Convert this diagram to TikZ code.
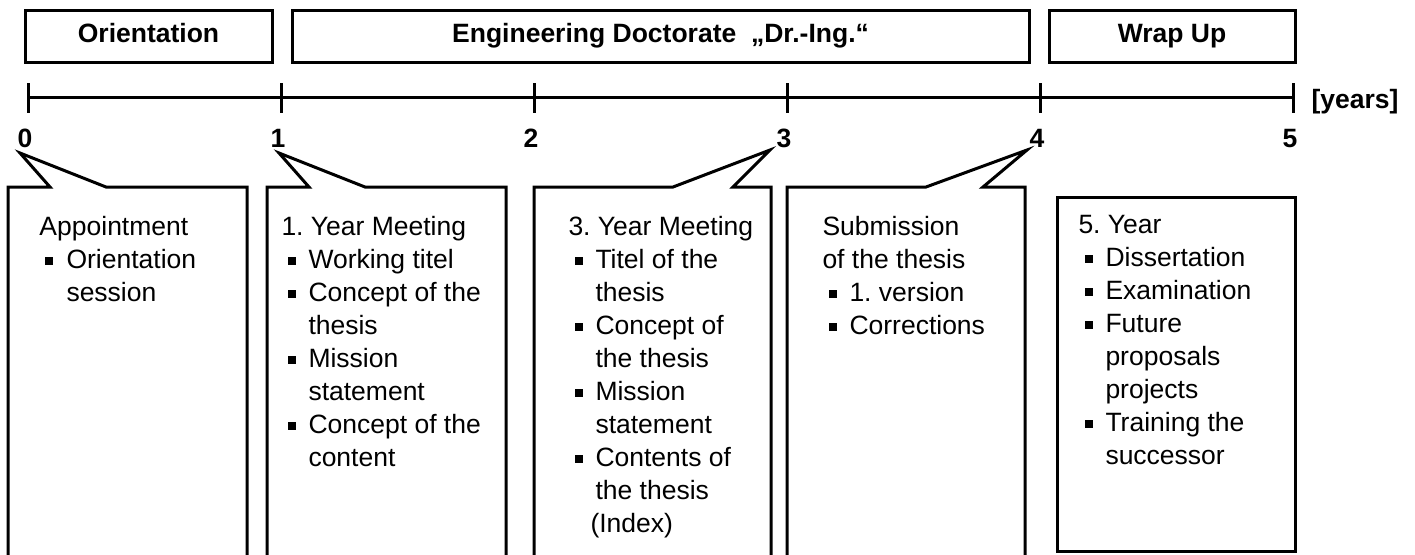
\documentclass[tikz,border=0pt]{standalone}
\usepackage{fontspec}
\setmainfont{Liberation Sans}
\usetikzlibrary{positioning, calc}

\newcommand{\bodyfont}{\fontsize{13.25}{16.5}\selectfont\frenchspacing}
\newcommand{\sq}{\makebox[13.5pt][l]{\hspace{3pt}\raisebox{1.6pt}{\rule{4pt}{4pt}}}}
\newcommand{\boxhead}[1]{\multicolumn{2}{@{}l@{}}{#1}}

\tikzset{
  phase/.style={draw, line width=1.5pt, minimum height=26pt, inner sep=0pt,
    text height=9.5pt, text depth=2.8pt, font=\bodyfont\bfseries},
  callout/.style={draw, line width=1.5pt, line join=miter},
  boxtext/.style={anchor=base west, inner sep=0pt, align=left},
  yearno/.style={anchor=base, inner sep=0pt, font=\bodyfont\bfseries}
}

\begin{document}
\begin{tikzpicture}[x=0.5pt, y=-0.5pt, line width=1.5pt, font=\bodyfont]
    \useasboundingbox (0,0) rectangle (1415,554);
    \clip (0,0) rectangle (1415,554);

    % 阶段
    \node[phase, minimum width=123.5pt] (orient) at (148.5,36) {Orientation};
    \node[phase, minimum width=368.5pt] (eng) at (660.5,36) {Engineering Doctorate\ \ „Dr.-Ing.“};
    \node[phase, minimum width=123pt] (wrap) at (1172,36) {Wrap Up};

    % 时间轴和刻度
    \foreach \i in {0,...,5} {
      \coordinate (a\i) at (28+253*\i,97);
      \draw ($(a\i)+(0,-14)$) -- ($(a\i)+(0,16)$);
      \node[yearno] (n\i) at (25+253*\i,147) {\i};
    }
    \draw (a0) -- (a5);
    \node[anchor=base west, inner sep=0pt, font=\bodyfont\bfseries] (unit) at (1310,108) {[years]};

    % 气泡框
    \draw[callout] (8,560) -- (8,187) -- (50,187) -- (20,153) -- (106,187) -- (247,187) -- (247,560);
    \draw[callout] (267,560) -- (267,187) -- (309,187) -- (279,153) -- (365,187) -- (506,187) -- (506,560);
    \draw[callout] (534,560) -- (534,187) -- (673,187) -- (770,150) -- (733,187) -- (771,187) -- (771,560);
    \draw[callout] (787,560) -- (787,187) -- (926,187) -- (1027,150) -- (983,187) -- (1025,187) -- (1025,560);
    \draw[callout] (1057,197) rectangle (1295,551);

    % 框内文字
    \node[boxtext] (appt) at (38,235) {\begin{tabular}[t]{@{}l@{}l@{}}
      \boxhead{Appointment}\\
      \sq & Orientation\\
          & session
    \end{tabular}};
    \node[boxtext] (meet1) at (280,235) {\begin{tabular}[t]{@{}l@{}l@{}}
      \boxhead{1. Year Meeting}\\
      \sq & Working titel\\
      \sq & Concept of the\\
          & thesis\\
      \sq & Mission\\
          & statement\\
      \sq & Concept of the\\
          & content
    \end{tabular}};
    \node[boxtext] (meet3) at (567,235) {\begin{tabular}[t]{@{}l@{}l@{}}
      \boxhead{3. Year Meeting}\\
      \sq & Titel of the\\
          & thesis\\
      \sq & Concept of\\
          & the thesis\\
      \sq & Mission\\
          & statement\\
      \sq & Contents of\\
          & the thesis\\
          & \hspace{-2.5pt}(Index)
    \end{tabular}};
    \node[boxtext] (submit) at (821,235) {\begin{tabular}[t]{@{}l@{}l@{}}
      \boxhead{Submission}\\
      \boxhead{of the thesis}\\
      \sq & 1. version\\
      \sq & Corrections
    \end{tabular}};
    \node[boxtext] (year5) at (1077,233) {\begin{tabular}[t]{@{}l@{}l@{}}
      \boxhead{5. Year}\\
      \sq & Dissertation\\
      \sq & Examination\\
      \sq & Future\\
          & proposals\\
          & projects\\
      \sq & Training the\\
          & successor
    \end{tabular}};
\end{tikzpicture}
\end{document}
